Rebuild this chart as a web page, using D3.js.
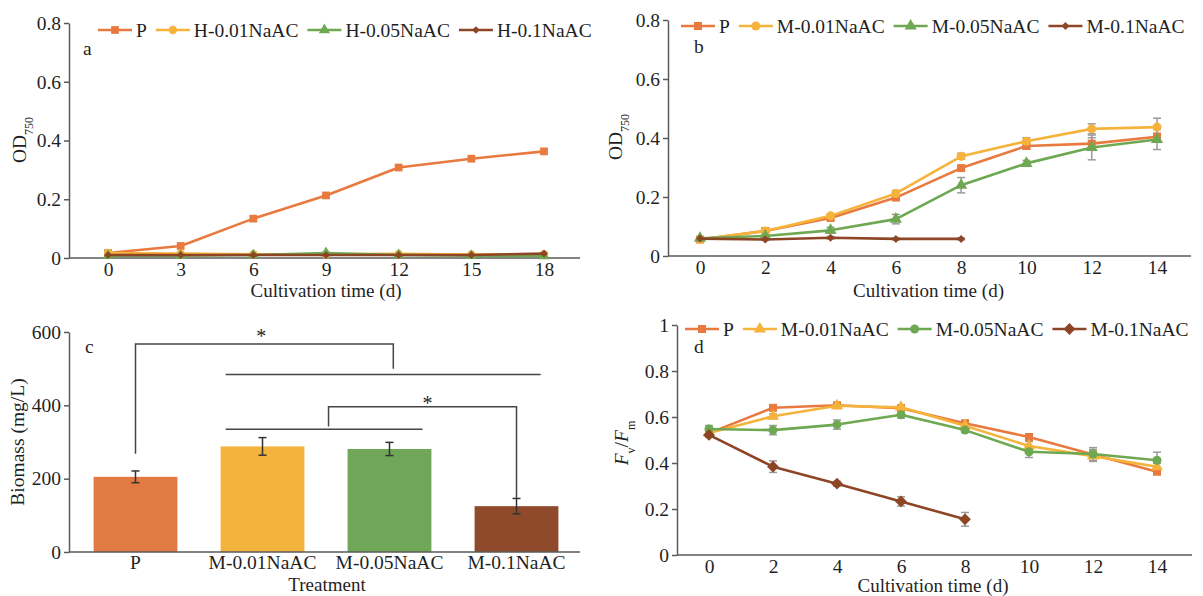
<!DOCTYPE html>
<html>
<head>
<meta charset="utf-8">
<script src="https://cdn.jsdelivr.net/npm/d3@7"></script>
<style>
  body { margin: 0; background: #fff; }
  svg text { font-family: "Liberation Serif", "Times New Roman", serif; fill: #1f1f1f; }
</style>
</head>
<body>
<svg id="chart" width="1203" height="596"></svg>
<script>
// ---- data ----
const daysA = [0, 3, 6, 9, 12, 15, 18];
const namesA = ["P", "H-0.01NaAC", "H-0.05NaAC", "H-0.1NaAC"];
const odA_P = [0.017, 0.041, 0.134, 0.213, 0.308, 0.338, 0.363];
const odA_H001 = [0.017, 0.015, 0.013, 0.013, 0.014, 0.012, 0.013];
const odA_H005 = [0.008, 0.008, 0.010, 0.017, 0.010, 0.008, 0.007];
const odA_H01 = [0.010, 0.010, 0.010, 0.010, 0.010, 0.010, 0.015];

const daysB = [0, 2, 4, 6, 8, 10, 12, 14];
const namesB = ["P", "M-0.01NaAC", "M-0.05NaAC", "M-0.1NaAC"];
const odB_P = [0.056, 0.085, 0.129, 0.198, 0.298, 0.373, 0.381, 0.404];
const odB_M001 = [0.056, 0.085, 0.136, 0.212, 0.338, 0.389, 0.431, 0.437];
const odB_M005 = [0.060, 0.068, 0.087, 0.125, 0.240, 0.314, 0.368, 0.395];
const odB_M01 = [0.059, 0.056, 0.062, 0.058, 0.058];
const errB_P = [0.004, 0.005, 0.005, 0.008, 0.008, 0.010, 0.020, 0.012];
const errB_M001 = [0.003, 0.006, 0.006, 0.010, 0.010, 0.012, 0.017, 0.030];
const errB_M005 = [0.004, 0.004, 0.010, 0.016, 0.026, 0.010, 0.042, 0.034];
const errB_M01 = [0.003, 0.003, 0.004, 0.003, 0.003];

const treatments = ["P", "M-0.01NaAC", "M-0.05NaAC", "M-0.1NaAC"];
const biomass = [205, 288, 281, 125];
const biomassErr = [16, 24, 18, 21];
// significance lines: [category index, biomass value]
const sigLines = [
  [[0, 268], [0, 567], [2.03, 567], [2.03, 500]],
  [[0.71, 484], [3.19, 484]],
  [[0.71, 335], [2.26, 335]],
  [[1.52, 342], [1.52, 396], [3, 396], [3, 147]]
];
const sigStars = [[0.99, 598], [2.3, 415]];

const daysD = [0, 2, 4, 6, 8, 10, 12, 14];
const fvfm_P = [0.530, 0.640, 0.651, 0.638, 0.573, 0.513, 0.437, 0.362];
const fvfm_M001 = [0.530, 0.603, 0.649, 0.642, 0.562, 0.474, 0.430, 0.384];
const fvfm_M005 = [0.548, 0.543, 0.567, 0.610, 0.543, 0.449, 0.439, 0.412];
const fvfm_M01 = [0.522, 0.384, 0.310, 0.233, 0.155];
const errD_P = [0.010, 0.010, 0.010, 0.010, 0.010, 0.010, 0.030, 0.010];
const errD_M001 = [0.010, 0.010, 0.010, 0.010, 0.010, 0.020, 0.020, 0.015];
const errD_M005 = [0.015, 0.020, 0.020, 0.015, 0.010, 0.025, 0.020, 0.035];
const errD_M01 = [0.010, 0.025, 0.010, 0.020, 0.030];

const orange = "#e8793f", yellow = "#f6b33b", green = "#6fa852", brown = "#8e4526";
const axisColor = "#5a5a5a";
const fontSize = 19.5;

const svg = d3.select("#chart");

function symbolPath(type, size) {
  const t = type === "circle" ? d3.symbolCircle
    : type === "triangle" ? d3.symbolTriangle
    : d3.symbolSquare;
  return d3.symbol().type(t).size(size)();
}

function drawMarker(g, s, cx, cy) {
  g.append("path")
    .attr("d", symbolPath(s.symbol, s.size))
    .attr("transform", `translate(${cx},${cy})` + (s.symbol === "diamond" ? " rotate(45)" : ""))
    .attr("fill", s.color);
}

function styleAxis(a) {
  a.attr("font-family", null).attr("font-size", null);
  a.selectAll("text").style("font-size", fontSize + "px").attr("fill", "#1f1f1f");
  a.selectAll("line, path").attr("stroke", axisColor).attr("stroke-width", 1.5);
}

function legend(x0, y0, series) {
  let x = x0;
  series.forEach(s => {
    const g = svg.append("g");
    g.append("line")
      .attr("x1", x).attr("x2", x + 34).attr("y1", y0).attr("y2", y0)
      .attr("stroke", s.color).attr("stroke-width", 2.5);
    drawMarker(g, s, x + 17, y0);
    const t = g.append("text")
      .attr("x", x + 38).attr("y", y0 + 7)
      .style("font-size", fontSize + "px")
      .text(s.name);
    x += 38 + t.node().getComputedTextLength() + 9;
  });
}

function lineChart(o) {
  const x = d3.scaleLinear().domain([0, d3.max(o.days)]).range(o.xRange);
  const y = d3.scaleLinear().domain(o.yDomain).range(o.yRange);
  const g = svg.append("g");

  g.append("g")
    .attr("transform", `translate(${o.axisX},0)`)
    .call(d3.axisLeft(y).tickValues(o.yTicks).tickFormat(d3.format("~g"))
      .tickSize(5).tickSizeOuter(0).tickPadding(3))
    .call(styleAxis);

  g.append("line")
    .attr("x1", o.axisX).attr("x2", o.axisEnd)
    .attr("y1", y(0)).attr("y2", y(0))
    .attr("stroke", axisColor).attr("stroke-width", 1.5);

  g.append("g")
    .attr("transform", `translate(0,${y(0)})`)
    .call(d3.axisBottom(x).tickValues(o.days).tickSize(0).tickPadding(4))
    .call(a => a.select(".domain").remove())
    .call(styleAxis);

  // error bars
  o.series.forEach(s => {
    if (!s.errors) return;
    s.values.forEach((v, i) => {
      const e = s.errors[i], cx = x(o.days[i]);
      const eg = g.append("g").attr("stroke", "#9a9a9a").attr("stroke-width", 1.5);
      eg.append("line").attr("x1", cx).attr("x2", cx).attr("y1", y(v - e)).attr("y2", y(v + e));
      eg.append("line").attr("x1", cx - 4).attr("x2", cx + 4).attr("y1", y(v - e)).attr("y2", y(v - e));
      eg.append("line").attr("x1", cx - 4).attr("x2", cx + 4).attr("y1", y(v + e)).attr("y2", y(v + e));
    });
  });

  const line = d3.line().x((d, i) => x(o.days[i])).y(d => y(d));
  o.series.forEach(s => {
    g.append("path")
      .datum(s.values)
      .attr("d", line)
      .attr("fill", "none")
      .attr("stroke", s.color)
      .attr("stroke-width", 2.6)
      .attr("stroke-linejoin", "round");
    s.values.forEach((v, i) => drawMarker(g, s, x(o.days[i]), y(v)));
  });

  legend(o.legendX, o.legendY, o.series);

  g.append("text")
    .attr("x", o.labelPos[0]).attr("y", o.labelPos[1])
    .style("font-size", fontSize + "px").text(o.label);

  g.append("text")
    .attr("x", (o.xRange[0] + o.xRange[1]) / 2).attr("y", o.xTitleY)
    .attr("text-anchor", "middle")
    .style("font-size", "19px")
    .text("Cultivation time (d)");

  return g;
}

// ---- panel a ----
lineChart({
  days: daysA, xRange: [108, 544], yDomain: [0, 0.8], yRange: [258, 23],
  yTicks: [0, 0.2, 0.4, 0.6, 0.8], axisX: 69, axisEnd: 580,
  legendX: 98, legendY: 30, label: "a", labelPos: [83, 55], xTitleY: 297,
  series: [
    { name: namesA[0], values: odA_P, color: orange, symbol: "square", size: 60 },
    { name: namesA[1], values: odA_H001, color: yellow, symbol: "circle", size: 55 },
    { name: namesA[2], values: odA_H005, color: green, symbol: "triangle", size: 55 },
    { name: namesA[3], values: odA_H01, color: brown, symbol: "diamond", size: 30 }
  ]
});
const odA = svg.append("text")
  .attr("transform", "translate(26,140) rotate(-90)")
  .attr("text-anchor", "middle")
  .style("font-size", fontSize + "px");
odA.append("tspan").text("OD");
odA.append("tspan").attr("baseline-shift", "sub").style("font-size", "12px").text("750");

// ---- panel b ----
lineChart({
  days: daysB, xRange: [700, 1157], yDomain: [0, 0.8], yRange: [256, 20],
  yTicks: [0, 0.2, 0.4, 0.6, 0.8], axisX: 668, axisEnd: 1191,
  legendX: 681, legendY: 26, label: "b", labelPos: [694, 53], xTitleY: 297,
  series: [
    { name: namesB[0], values: odB_P, errors: errB_P, color: orange, symbol: "square", size: 64 },
    { name: namesB[1], values: odB_M001, errors: errB_M001, color: yellow, symbol: "circle", size: 64 },
    { name: namesB[2], values: odB_M005, errors: errB_M005, color: green, symbol: "triangle", size: 64 },
    { name: namesB[3], values: odB_M01, errors: errB_M01, color: brown, symbol: "diamond", size: 32 }
  ]
});
const odB = svg.append("text")
  .attr("transform", "translate(622,137) rotate(-90)")
  .attr("text-anchor", "middle")
  .style("font-size", fontSize + "px");
odB.append("tspan").text("OD");
odB.append("tspan").attr("baseline-shift", "sub").style("font-size", "12px").text("750");

// ---- panel c ----
const xc = d3.scaleBand().domain(treatments).range([72, 580]).paddingInner(0.34).paddingOuter(0.17);
const yc = d3.scaleLinear().domain([0, 600]).range([552, 332]);
const xi = d3.scaleLinear().domain([0, 3])
  .range([xc(treatments[0]) + xc.bandwidth() / 2, xc(treatments[3]) + xc.bandwidth() / 2]);
const barColors = ["#e27a43", "#f4b33c", "#70a657", "#8e4a2b"];
const gc = svg.append("g");

gc.append("g")
  .attr("transform", "translate(69,0)")
  .call(d3.axisLeft(yc).tickValues([0, 200, 400, 600]).tickSize(5).tickSizeOuter(0).tickPadding(3))
  .call(styleAxis);

gc.selectAll("rect.bar")
  .data(biomass)
  .enter()
  .append("rect")
  .attr("class", "bar")
  .attr("x", (d, i) => xc(treatments[i]))
  .attr("width", xc.bandwidth())
  .attr("y", d => yc(d))
  .attr("height", d => yc(0) - yc(d))
  .attr("fill", (d, i) => barColors[i]);

gc.append("line")
  .attr("x1", 69).attr("x2", 580).attr("y1", yc(0)).attr("y2", yc(0))
  .attr("stroke", axisColor).attr("stroke-width", 1.5);

gc.append("g")
  .attr("transform", `translate(0,${yc(0)})`)
  .call(d3.axisBottom(xc).tickSize(0).tickPadding(3))
  .call(a => a.select(".domain").remove())
  .call(styleAxis);

biomass.forEach((v, i) => {
  const cx = xc(treatments[i]) + xc.bandwidth() / 2, e = biomassErr[i];
  const eg = gc.append("g").attr("stroke", "#333").attr("stroke-width", 1.5);
  eg.append("line").attr("x1", cx).attr("x2", cx).attr("y1", yc(v - e)).attr("y2", yc(v + e));
  eg.append("line").attr("x1", cx - 4).attr("x2", cx + 4).attr("y1", yc(v - e)).attr("y2", yc(v - e));
  eg.append("line").attr("x1", cx - 4).attr("x2", cx + 4).attr("y1", yc(v + e)).attr("y2", yc(v + e));
});

const sigLine = d3.line().x(d => xi(d[0])).y(d => yc(d[1]));
sigLines.forEach(l => {
  gc.append("path").attr("d", sigLine(l))
    .attr("fill", "none").attr("stroke", "#454545").attr("stroke-width", 1.5);
});
sigStars.forEach(s => {
  gc.append("text")
    .attr("x", xi(s[0])).attr("y", yc(s[1]) + 10)
    .attr("text-anchor", "middle")
    .style("font-size", "20px")
    .text("*");
});

gc.append("text").attr("x", 85).attr("y", 353).style("font-size", fontSize + "px").text("c");
gc.append("text")
  .attr("transform", "translate(24,442) rotate(-90)")
  .attr("text-anchor", "middle")
  .style("font-size", fontSize + "px")
  .text("Biomass (mg/L)");
gc.append("text")
  .attr("x", 327).attr("y", 591)
  .attr("text-anchor", "middle")
  .style("font-size", "19px")
  .text("Treatment");

// ---- panel d ----
lineChart({
  days: daysD, xRange: [709, 1157], yDomain: [0, 1], yRange: [555, 325],
  yTicks: [0, 0.2, 0.4, 0.6, 0.8, 1], axisX: 677, axisEnd: 1192,
  legendX: 685, legendY: 329, label: "d", labelPos: [694, 353], xTitleY: 592,
  series: [
    { name: namesB[0], values: fvfm_P, errors: errD_P, color: orange, symbol: "square", size: 64 },
    { name: namesB[1], values: fvfm_M001, errors: errD_M001, color: yellow, symbol: "triangle", size: 64 },
    { name: namesB[2], values: fvfm_M005, errors: errD_M005, color: green, symbol: "circle", size: 64 },
    { name: namesB[3], values: fvfm_M01, errors: errD_M01, color: brown, symbol: "diamond", size: 70 }
  ]
});
const fv = svg.append("text")
  .attr("transform", "translate(628,443) rotate(-90)")
  .attr("text-anchor", "middle")
  .style("font-size", fontSize + "px");
fv.append("tspan").style("font-style", "italic").text("F");
fv.append("tspan").attr("baseline-shift", "sub").style("font-size", "12px").text("v");
fv.append("tspan").text("/");
fv.append("tspan").style("font-style", "italic").text("F");
fv.append("tspan").attr("baseline-shift", "sub").style("font-size", "12px").text("m");
</script>
</body>
</html>
